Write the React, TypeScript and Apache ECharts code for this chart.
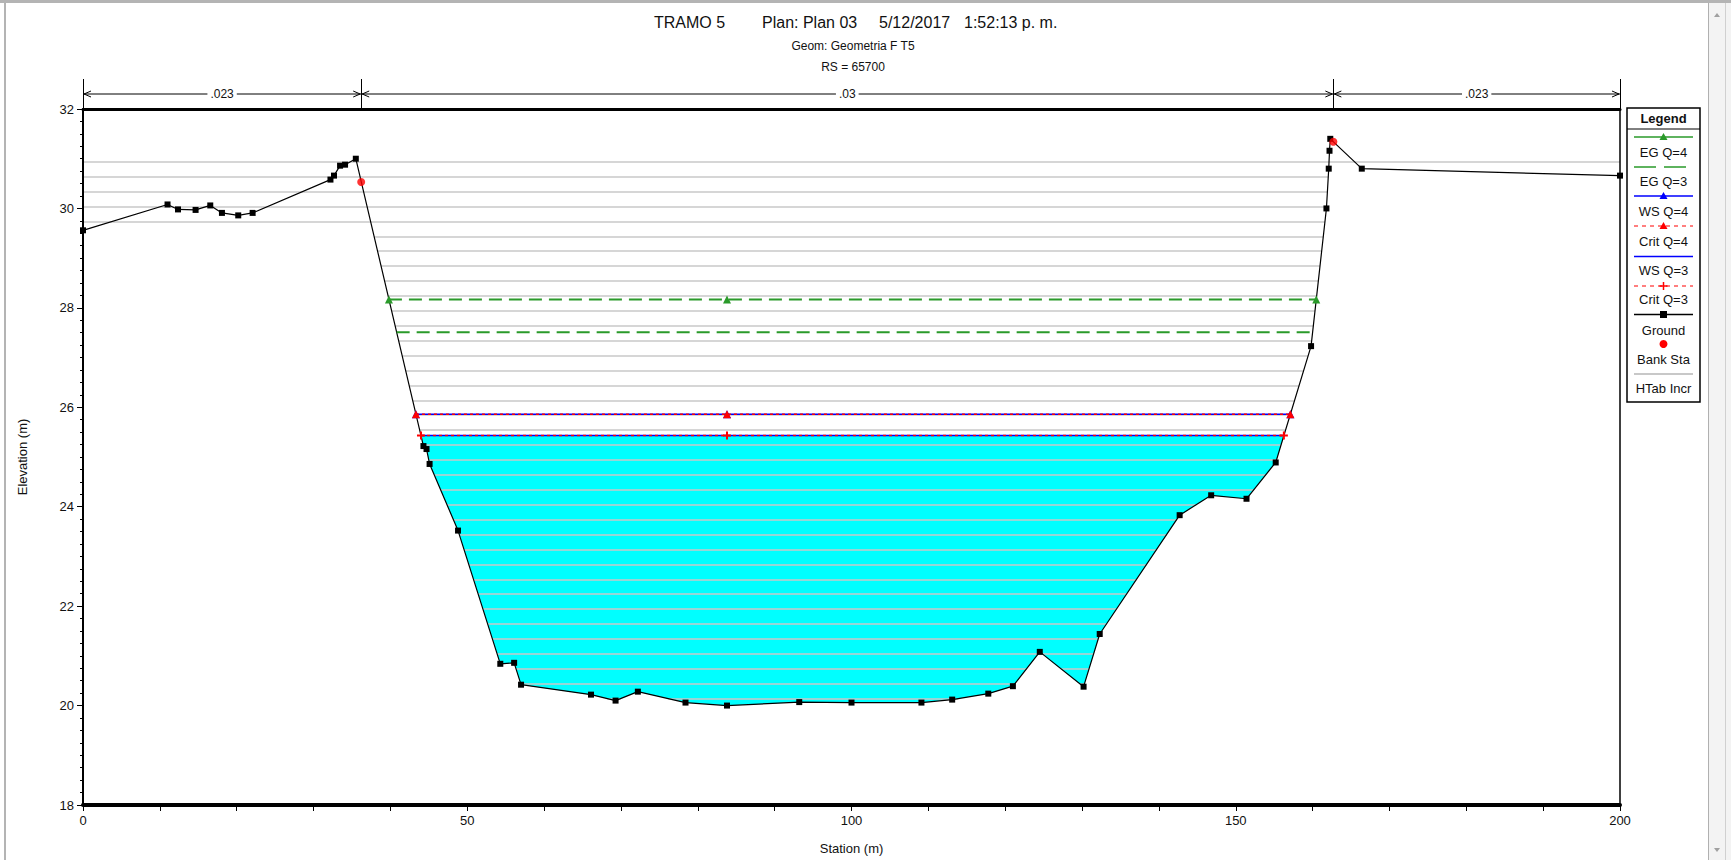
import React, { useEffect, useRef } from "react";
import * as echarts from "echarts";

// ---------- DATA ----------
const groundStation = [
  0, 11.0, 12.36, 14.65, 16.56, 18.08, 20.2, 22.07, 32.2, 32.66, 33.45, 34.1, 35.5,
  44.3, 44.7, 45.1, 48.8, 54.3, 56.1, 57.0, 66.1, 69.3, 72.2, 78.4, 83.8, 93.2, 100.0,
  109.1, 113.1, 117.8, 121.0, 124.5, 130.2, 132.3, 142.7, 146.8, 151.4, 155.2, 159.8,
  161.8, 162.1, 162.2, 162.3, 166.4, 200,
];
const groundElev = [
  29.56, 30.08, 29.98, 29.97, 30.06, 29.91, 29.86, 29.91, 30.58, 30.66, 30.86, 30.88, 31.0,
  25.22, 25.16, 24.86, 23.52, 20.84, 20.86, 20.42, 20.22, 20.1, 20.28, 20.06, 20.0, 20.07, 20.06,
  20.06, 20.12, 20.24, 20.39, 21.08, 20.38, 21.44, 23.83, 24.23, 24.16, 24.89, 27.23,
  30.0, 30.8, 31.16, 31.4, 30.8, 30.66,
];
const bankStation = [36.2, 162.7];
const bankElev = [30.53, 31.34];
const profileNames = ["EG Q=4", "EG Q=3", "WS Q=4", "Crit Q=4", "WS Q=3", "Crit Q=3"];
const profileElev = [28.17, 27.51, 25.86, 25.86, 25.43, 25.43];
const htabElev = [
  20.14, 20.44, 20.74, 21.04, 21.34, 21.64, 21.94, 22.24, 22.54, 22.84, 23.14, 23.44, 23.74,
  24.04, 24.34, 24.64, 24.94, 25.24, 25.54, 25.84, 26.14, 26.44, 26.74, 27.04, 27.34, 27.64,
  27.94, 28.24, 28.54, 28.84, 29.14, 29.44, 29.74, 30.04, 30.34, 30.64, 30.94,
];
const nValues = [".023", ".03", ".023"];
const xTicks = { min: 0, max: 200, step: 10, labelEvery: 50 };
const yTicks = { min: 18, max: 32, step: 2 };

const FONT = "'Liberation Sans', Arial, Helvetica, sans-serif";
const GREEN = "#2a9a2a";
const BLUE = "#0000ff";
const RED = "#ff0000";
const CYAN = "#00ffff";
const HTAB = "#c8c8c8";
const PLUS = "path://M3,0H5V3H8V5H5V8H3V5H0V3H3Z";

// ---------- helpers (derived from the data) ----------
function interpX(i: number, j: number, e: number) {
  const x0 = groundStation[i], x1 = groundStation[j];
  const y0 = groundElev[i], y1 = groundElev[j];
  if (y1 === y0) return x0;
  return x0 + ((e - y0) / (y1 - y0)) * (x1 - x0);
}
function thalwegIndex() {
  let k = 0;
  groundElev.forEach((v, i) => { if (v < groundElev[k]) k = i; });
  return k;
}
function channelEnds(e: number): [number, number] {
  const k = thalwegIndex();
  let left = groundStation[0];
  for (let i = k; i > 0; i--) {
    if (groundElev[i - 1] >= e) { left = interpX(i - 1, i, e); break; }
  }
  let right = groundStation[groundStation.length - 1];
  for (let i = k; i < groundStation.length - 1; i++) {
    if (groundElev[i + 1] >= e) { right = interpX(i, i + 1, e); break; }
  }
  return [left, right];
}
function wetIntervals(e: number): [number, number][] {
  const n = groundStation.length;
  const iv: [number, number][] = [];
  let start: number | null = groundElev[0] < e ? groundStation[0] : null;
  for (let i = 0; i < n - 1; i++) {
    const w0 = groundElev[i] < e, w1 = groundElev[i + 1] < e;
    if (w0 !== w1) {
      const xc = interpX(i, i + 1, e);
      if (w1) start = xc;
      else { iv.push([start as number, xc]); start = null; }
    }
  }
  if (start !== null) iv.push([start, groundStation[n - 1]]);
  // merge gaps that are not entirely inside the main channel
  const merged: [number, number][] = [];
  iv.forEach((seg) => {
    const last = merged[merged.length - 1];
    if (last && !(last[1] > bankStation[0] && seg[0] < bankStation[1])) last[1] = seg[1];
    else merged.push([seg[0], seg[1]]);
  });
  return merged;
}

function buildOption() {
  const ground = groundStation.map((s, i) => [s, groundElev[i]]);
  const ws3 = profileElev[4];
  const [wl, wr] = channelEnds(ws3);
  const thalweg = groundStation[thalwegIndex()];
  const htabData: any[] = [];
  htabElev.forEach((e) => {
    wetIntervals(e).forEach(([a, b]) => htabData.push({ coords: [[a, e], [b, e]] }));
  });
  const prof = (idx: number) => {
    const e = profileElev[idx];
    const [l, r] = channelEnds(e);
    return [[l, e], [thalweg, e], [r, e]];
  };
  const styles = [
    { color: GREEN, type: [13, 7], width: 2, symbol: "triangle", show: true },
    { color: GREEN, type: [13, 7], width: 2, symbol: "none", show: false },
    { color: BLUE, type: "solid", width: 1.5, symbol: "triangle", show: true },
    { color: RED, type: [3, 3], width: 1.5, symbol: "triangle", show: true },
    { color: BLUE, type: "solid", width: 1.5, symbol: "none", show: false },
    { color: RED, type: [3, 3], width: 1.5, symbol: PLUS, show: true },
  ];
  const profileSeries = profileNames.map((name, i) => ({
    name,
    type: "line",
    z: 6,
    data: prof(i),
    symbol: styles[i].symbol,
    symbolSize: 8,
    showSymbol: styles[i].show,
    showAllSymbol: true,
    lineStyle: { color: styles[i].color, width: styles[i].width, type: styles[i].type as any },
    itemStyle: { color: styles[i].color },
    silent: true,
  }));

  return {
    animation: false,
    backgroundColor: "#ffffff",
    textStyle: { fontFamily: FONT },
    grid: { left: 83, top: 109, width: 1537, height: 698, show: false },
    xAxis: [
      {
        type: "value", min: xTicks.min, max: xTicks.max, interval: xTicks.step, position: "bottom", z: 10,
        name: "Station (m)", nameLocation: "middle", nameGap: 37,
        nameTextStyle: { fontSize: 13, color: "#111", fontFamily: FONT },
        axisLine: { show: true, onZero: false, lineStyle: { color: "#000", width: 4 } },
        axisTick: { show: true, length: 6, lineStyle: { color: "#000", width: 1 } },
        axisLabel: {
          fontSize: 13, color: "#111", margin: 9, fontFamily: FONT,
          formatter: (v: number) => (v % xTicks.labelEvery === 0 ? String(v) : ""),
        },
        splitLine: { show: false },
      },
      {
        type: "value", min: xTicks.min, max: xTicks.max, position: "top", z: 10,
        axisLine: { show: true, onZero: false, lineStyle: { color: "#000", width: 3 } },
        axisTick: { show: false }, axisLabel: { show: false }, splitLine: { show: false },
      },
    ],
    yAxis: [
      {
        type: "value", min: yTicks.min, max: yTicks.max, interval: yTicks.step, position: "left", z: 10,
        name: "Elevation (m)", nameLocation: "middle", nameGap: 54,
        nameTextStyle: { fontSize: 13, color: "#111", fontFamily: FONT },
        axisLine: { show: true, onZero: false, lineStyle: { color: "#000", width: 2 } },
        axisTick: { show: true, length: 6, lineStyle: { color: "#000", width: 1 } },
        minorTick: { show: true, splitNumber: 8, length: 3, lineStyle: { color: "#000", width: 1 } },
        axisLabel: { fontSize: 13, color: "#111", margin: 9, fontFamily: FONT },
        splitLine: { show: false },
      },
      {
        type: "value", min: yTicks.min, max: yTicks.max, position: "right", z: 10,
        axisLine: { show: true, onZero: false, lineStyle: { color: "#000", width: 1.5 } },
        axisTick: { show: false }, axisLabel: { show: false }, splitLine: { show: false },
      },
    ],
    series: [
      {
        name: "water", type: "line", z: 1, data: [[wl, ws3], [wr, ws3]], symbol: "none",
        lineStyle: { width: 0 }, areaStyle: { color: CYAN, opacity: 1, origin: "start" }, silent: true,
      },
      {
        name: "groundFill", type: "line", z: 2, data: ground, symbol: "none",
        lineStyle: { width: 0 }, areaStyle: { color: "#ffffff", opacity: 1, origin: "start" }, silent: true,
      },
      {
        name: "HTab Incr", type: "lines", z: 4, coordinateSystem: "cartesian2d", data: htabData,
        lineStyle: { color: HTAB, width: 1.5, opacity: 1 }, silent: true,
      },
      {
        name: "Ground", type: "line", z: 5, data: ground, symbol: "rect", symbolSize: 6,
        showAllSymbol: true, lineStyle: { color: "#000", width: 1.2 }, itemStyle: { color: "#000" }, silent: true,
      },
      ...profileSeries,
      {
        name: "Bank Sta", type: "scatter", data: bankStation.map((s, i) => [s, bankElev[i]]),
        symbol: "circle", symbolSize: 8, itemStyle: { color: RED }, silent: true, z: 7,
      },
    ],
  };
}

function buildGraphic(chart: echarts.ECharts) {
  const px = (s: number) => chart.convertToPixel({ xAxisIndex: 0 }, s) as number;
  const py = (e: number) => chart.convertToPixel({ yAxisIndex: 0 }, e) as number;
  const g: any[] = [];
  const txt = (text: string, x: number, y: number, size: number, align = "center", weight = "normal", extra: any = {}) =>
    g.push({
      type: "text", silent: true, z: 20,
      style: { text, x, y, fill: "#111", font: `${weight} ${size}px ${FONT}`, align, verticalAlign: "middle", ...extra },
    });

  // window frame
  g.push({ type: "rect", silent: true, shape: { x: 0, y: 0, width: 1731, height: 3 }, style: { fill: "#b4b4b4" } });
  g.push({ type: "rect", silent: true, shape: { x: 4, y: 0, width: 2, height: 860 }, style: { fill: "#b4b4b4" } });
  g.push({ type: "rect", silent: true, shape: { x: 1708, y: 3, width: 23, height: 857 }, style: { fill: "#f3f3f3" } });
  g.push({ type: "line", silent: true, shape: { x1: 1708.5, y1: 3, x2: 1708.5, y2: 860 }, style: { stroke: "#b0b0b0", lineWidth: 1 } });
  g.push({ type: "line", silent: true, shape: { x1: 1725.5, y1: 3, x2: 1725.5, y2: 860 }, style: { stroke: "#d0d0d0", lineWidth: 1 } });
  g.push({ type: "polygon", silent: true, shape: { points: [[1714, 17], [1717, 13], [1720, 17]] }, style: { fill: "#a0a0a0" } });
  g.push({ type: "polygon", silent: true, shape: { points: [[1714, 848], [1717, 852], [1720, 848]] }, style: { fill: "#a0a0a0" } });

  // titles
  txt("TRAMO 5", 654, 22, 16, "left");
  txt("Plan: Plan 03", 762, 22, 16, "left");
  txt("5/12/2017", 879, 22, 16, "left");
  txt("1:52:13 p. m.", 964, 22, 16, "left");
  txt("Geom: Geometria F T5", 853, 46, 12);
  txt("RS = 65700", 853, 67, 12);

  // Manning's n bar
  const yTop = py(yTicks.max);
  const barY = 94;
  const bounds = [xTicks.min, bankStation[0], bankStation[1], xTicks.max];
  bounds.forEach((s) => {
    const x = Math.round(px(s)) + 0.5;
    g.push({ type: "line", silent: true, z: 15, shape: { x1: x, y1: 79, x2: x, y2: yTop }, style: { stroke: "#000", lineWidth: 1 } });
  });
  g.push({ type: "line", silent: true, z: 15, shape: { x1: px(xTicks.min), y1: barY, x2: px(xTicks.max), y2: barY }, style: { stroke: "#000", lineWidth: 1 } });
  for (let i = 0; i < 3; i++) {
    const x0 = px(bounds[i]) + 1, x1 = px(bounds[i + 1]) - 1;
    g.push({ type: "polyline", silent: true, z: 15, shape: { points: [[x0 + 7, barY - 3], [x0, barY], [x0 + 7, barY + 3]] }, style: { stroke: "#000", lineWidth: 1, fill: "none" } });
    g.push({ type: "polyline", silent: true, z: 15, shape: { points: [[x1 - 7, barY - 3], [x1, barY], [x1 - 7, barY + 3]] }, style: { stroke: "#000", lineWidth: 1, fill: "none" } });
    txt(nValues[i], (x0 + x1) / 2, barY, 12, "center", "normal", { backgroundColor: "#fff", padding: [1, 3] });
  }

  // Legend box
  const lx = 1627, lw = 73, cx = lx + lw / 2;
  g.push({ type: "rect", silent: true, z: 18, shape: { x: lx, y: 108, width: lw, height: 294 }, style: { fill: "#fff", stroke: "#000", lineWidth: 1.5 } });
  g.push({ type: "line", silent: true, z: 19, shape: { x1: lx, y1: 129, x2: lx + lw, y2: 129 }, style: { stroke: "#000", lineWidth: 1 } });
  txt("Legend", cx, 118.5, 13, "center", "bold");
  const sx0 = lx + 7, sx1 = lx + lw - 7;
  const sample = (y: number, color: string, dash: any, width: number) =>
    g.push({ type: "line", silent: true, z: 19, shape: { x1: sx0, y1: y, x2: sx1, y2: y }, style: { stroke: color, lineWidth: width, lineDash: dash } });
  const tri = (y: number, color: string) =>
    g.push({ type: "polygon", silent: true, z: 20, shape: { points: [[cx - 4, y + 3], [cx, y - 4], [cx + 4, y + 3]] }, style: { fill: color } });
  const items = [
    { y: 137, ty: 152, color: GREEN, dash: null, w: 1.5, mark: "tri" },
    { y: 167, ty: 181, color: GREEN, dash: [22, 8], w: 1.5, mark: "" },
    { y: 196, ty: 211, color: BLUE, dash: null, w: 1.5, mark: "tri" },
    { y: 226, ty: 241, color: RED, dash: [4, 4], w: 1.2, mark: "tri" },
    { y: 256.5, ty: 270, color: BLUE, dash: null, w: 1.5, mark: "" },
    { y: 286, ty: 299, color: RED, dash: [4, 4], w: 1.2, mark: "plus" },
  ];
  items.forEach((it, i) => {
    sample(it.y, it.color, it.dash, it.w);
    if (it.mark === "tri") tri(it.y, it.color);
    if (it.mark === "plus") {
      g.push({ type: "line", silent: true, z: 20, shape: { x1: cx - 4, y1: it.y, x2: cx + 4, y2: it.y }, style: { stroke: it.color, lineWidth: 1.5 } });
      g.push({ type: "line", silent: true, z: 20, shape: { x1: cx, y1: it.y - 4, x2: cx, y2: it.y + 4 }, style: { stroke: it.color, lineWidth: 1.5 } });
    }
    txt(profileNames[i], cx, it.ty, 13);
  });
  sample(314.5, "#000", null, 1.5);
  g.push({ type: "rect", silent: true, z: 20, shape: { x: cx - 3.5, y: 311, width: 7, height: 7 }, style: { fill: "#000" } });
  txt("Ground", cx, 330, 13);
  g.push({ type: "circle", silent: true, z: 20, shape: { cx, cy: 344, r: 4 }, style: { fill: RED } });
  txt("Bank Sta", cx, 359, 13);
  sample(374, HTAB, null, 2);
  txt("HTab Incr", cx, 388.5, 13);
  return g;
}

export default function App() {
  const ref = useRef<HTMLDivElement>(null);
  useEffect(() => {
    document.body.style.margin = "0";
    const chart = echarts.init(ref.current as HTMLDivElement, undefined, { renderer: "svg" });
    chart.setOption(buildOption() as any);
    chart.setOption({ graphic: buildGraphic(chart) } as any);
    return () => chart.dispose();
  }, []);
  return (
    <div
      ref={ref}
      style={{ width: 1731, height: 860, position: "absolute", left: 0, top: 0, background: "#fff" }}
    />
  );
}
